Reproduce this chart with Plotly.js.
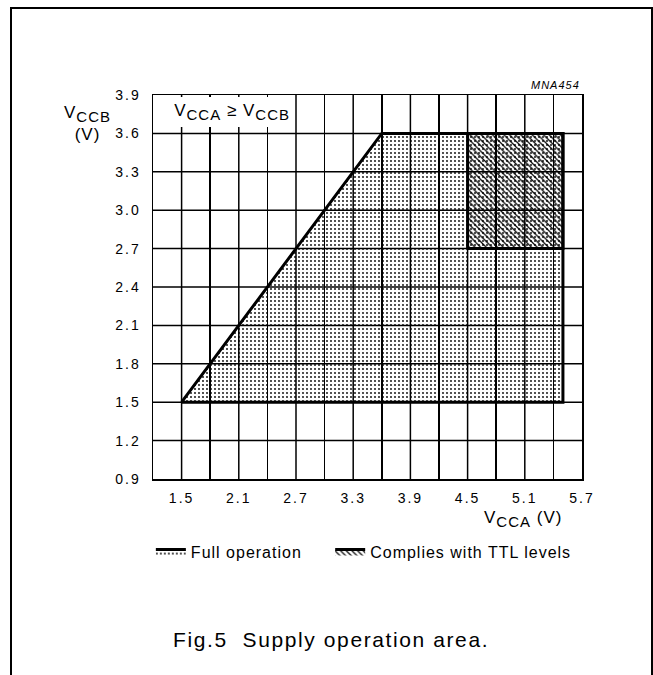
<!DOCTYPE html>
<html>
<head>
<meta charset="utf-8">
<script src="https://cdn.plot.ly/plotly-3.0.1.min.js"></script>
<style>
  html, body { margin: 0; padding: 0; background: #fff; }
  #chart { width: 653px; height: 675px; position: relative; }
  #frame { position: absolute; left: 10px; top: 7px; width: 639px; height: 720px;
           border: 2px solid #000; border-bottom: none; pointer-events: none; }
  text { letter-spacing: 1px; }
  .xtick text, .ytick text { letter-spacing: 2px; }
  text.gtitle { letter-spacing: 1.6px; }
  .js-plotly-plot .plotly .gridlayer path { shape-rendering: auto !important; }
</style>
</head>
<body>
<div id="chart"></div>
<div id="frame"></div>
<script>
// ---- data ----
const fullName = "Full operation";
const fullX = [1.5, 3.6, 5.5, 5.5, 1.5];
const fullY = [1.5, 3.6, 3.6, 1.5, 1.5];

const ttlName = "Complies with TTL levels";
const ttlX = [4.5, 5.5, 5.5, 4.5, 4.5];
const ttlY = [2.7, 2.7, 3.6, 3.6, 2.7];

const xRange = [1.2, 5.7];
const yRange = [0.9, 3.9];

const FONT = "Liberation Sans, Arial, Helvetica, sans-serif";
const SUB = (s) => "<sub><span style=\"font-size:15px\">" + s + "</span></sub>";

const traces = [
  {
    type: "scatter", mode: "lines", name: fullName, legend: "legend",
    x: fullX, y: fullY, fill: "toself",
    line: { color: "#000", width: 3 },
    fillpattern: { shape: ".", size: 4, solidity: 0.16, fgcolor: "#000", bgcolor: "rgba(0,0,0,0)", fillmode: "replace" },
    hoverinfo: "skip"
  },
  {
    type: "scatter", mode: "lines", name: ttlName, legend: "legend2",
    x: ttlX, y: ttlY, fill: "toself",
    line: { color: "#000", width: 3 },
    fillpattern: { shape: "\\", size: 4, solidity: 0.3, fgcolor: "#000", bgcolor: "rgba(0,0,0,0)", fillmode: "replace" },
    hoverinfo: "skip"
  }
];

const legendCommon = {
  orientation: "h", xanchor: "left", y: -0.145, yanchor: "top",
  font: { family: FONT, size: 16, color: "#000" },
  bgcolor: "rgba(0,0,0,0)"
};

const layout = {
  width: 653, height: 675,
  margin: { l: 153, r: 71, t: 95, b: 196, pad: 0 },
  paper_bgcolor: "#fff", plot_bgcolor: "#fff",
  font: { family: FONT, color: "#000", size: 14 },
  showlegend: true,
  legend: Object.assign({}, legendCommon, { x: -0.005 }),
  legend2: Object.assign({}, legendCommon, { x: 0.413 }),
  title: {
    text: "Fig.5\u00a0 Supply operation area.",
    font: { family: FONT, size: 21, color: "#000" },
    x: 0.507, xref: "container", xanchor: "center",
    y: 0.053, yref: "container", yanchor: "middle"
  },
  xaxis: {
    range: xRange, tick0: 1.5, dtick: 0.6, tickformat: ".1f",
    showgrid: true, gridcolor: "#000", gridwidth: 1.5,
    minor: { tick0: 1.2, dtick: 0.3, showgrid: true, gridcolor: "#000", gridwidth: 1.5 },
    showline: true, mirror: true, linecolor: "#000", linewidth: 1.5,
    ticks: "", ticklabelstandoff: 6, zeroline: false,
    tickfont: { family: FONT, size: 14, color: "#000" },
    fixedrange: true
  },
  yaxis: {
    range: yRange, tick0: 0.9, dtick: 0.3, tickformat: ".1f",
    showgrid: true, gridcolor: "#000", gridwidth: 1.5,
    showline: true, mirror: true, linecolor: "#000", linewidth: 1.5,
    ticks: "", ticklabelstandoff: 8, zeroline: false,
    tickfont: { family: FONT, size: 14, color: "#000" },
    fixedrange: true
  },
  annotations: [
    {
      text: "V" + SUB("CCB") + "<br>(V)", xref: "paper", yref: "paper",
      x: -0.152, y: 0.925, xanchor: "center", yanchor: "middle", align: "center",
      showarrow: false, font: { family: FONT, size: 17, color: "#000" }
    },
    {
      text: "V" + SUB("CCA") + " (V)", xref: "paper", yref: "paper",
      x: 0.957, y: -0.07, xanchor: "right", yanchor: "top",
      showarrow: false, font: { family: FONT, size: 17, color: "#000" }
    },
    {
      text: "V" + SUB("CCA") + " \u2265 V" + SUB("CCB"), xref: "paper", yref: "paper",
      x: 0.005, y: 0.995, xanchor: "left", yanchor: "top",
      width: 135, height: 30, align: "right", valign: "middle",
      bgcolor: "#fff", borderpad: 0, borderwidth: 0,
      showarrow: false, font: { family: FONT, size: 17, color: "#000" }
    },
    {
      text: "<i>MNA454</i>", xref: "paper", yref: "paper",
      x: 1.0, y: 1.005, xanchor: "right", yanchor: "bottom",
      showarrow: false, font: { family: FONT, size: 11, color: "#000" }
    }
  ]
};

Plotly.newPlot("chart", traces, layout, { displayModeBar: false, staticPlot: true });
</script>
</body>
</html>
